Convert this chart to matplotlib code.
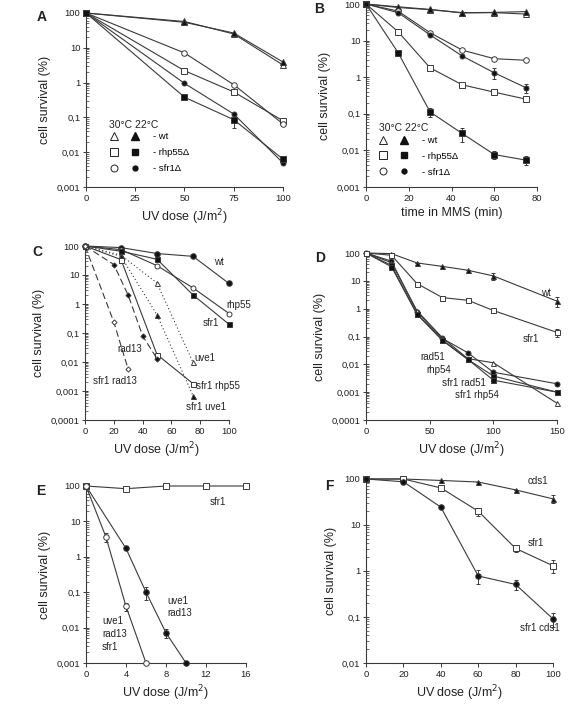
import matplotlib
matplotlib.use('Agg')
import matplotlib.pyplot as plt
from matplotlib.ticker import LogLocator, NullFormatter, FuncFormatter, FixedLocator
from matplotlib.lines import Line2D
import numpy as np

plt.rcParams['font.family'] = ['Liberation Sans', 'DejaVu Sans']

# ---------------- data ----------------
A_x = [0, 50, 75, 100]
A_wt30 = [100, 57, 25, 3.2]
A_wt22 = [100, 54, 26.6, 3.9]
A_rhp30 = [100, 2.2, 0.54, 0.08]
A_rhp22 = [100, 0.38, 0.086, 0.0063]
A_rhp22_err = [0, 0.02, 0.035, 0.0015]
A_sfr30 = [100, 7.1, 0.87, 0.065]
A_sfr22 = [100, 0.95, 0.125, 0.0049]

B_x = [0, 15, 30, 45, 60, 75]
B_wt30 = [100, 80, 70, 57, 58, 53]
B_wt22 = [100, 84, 71, 58, 59, 62]
B_rhp30 = [100, 17.5, 1.8, 0.62, 0.39, 0.25]
B_rhp22 = [100, 4.7, 0.112, 0.029, 0.0077, 0.0054]
B_rhp22_err = [0, 0, 0.03, 0.012, 0.002, 0.0015]
B_sfr30 = [100, 64, 16.4, 5.5, 3.2, 2.9]
B_sfr22 = [100, 58, 14.3, 3.8, 1.32, 0.51]
B_sfr22_err = [0, 0, 0, 0, 0.45, 0.15]

C_x5 = [0, 25, 50, 75, 100]
C_wt = [100, 88, 55, 44, 5.1]
C_rhp55 = [100, 75, 21, 3.6, 0.47]
C_sfr1 = [100, 66, 35, 2.06, 0.2]
C_x4 = [0, 25, 50, 75]
C_uve1 = [100, 48, 5.3, 0.0097]
C_sfr1uve1 = [100, 44, 0.42, 0.00069]
C_sfr1rhp55 = [100, 34, 0.018, 0.0018]
C_rad13_x = [0, 20, 30, 40, 50]
C_rad13 = [100, 23, 2.0, 0.08, 0.013]
C_sfr1rad13_x = [0, 20, 30]
C_sfr1rad13 = [100, 0.24, 0.0056]

D_x = [0, 20, 40, 60, 80, 100, 150]
D_wt = [100, 95, 44, 33, 24, 15, 1.86]
D_wt_err = [0, 0, 0, 0, 0, 4, 0.7]
D_sfr1 = [100, 83, 8, 2.5, 2.0, 0.86, 0.14]
D_sfr1_err = [0, 0, 0, 0, 0, 0, 0.04]
D_rad51 = [100, 51, 0.77, 0.085, 0.026, 0.0052, 0.002]
D_rhp54 = [100, 45, 0.85, 0.09, 0.016, 0.0114, 0.0004]
D_sfr1rad51 = [100, 36, 0.65, 0.075, 0.015, 0.0038, 0.001]
D_sfr1rhp54 = [100, 32, 0.63, 0.072, 0.015, 0.0027, 0.001]

E_x_sfr1 = [0, 4, 8, 12, 16]
E_sfr1 = [100, 84, 100, 100, 100]
E_x_ur = [0, 4, 6, 8, 10]
E_ur = [100, 1.72, 0.1, 0.0071, 0.001]
E_ur_err = [0, 0.2, 0.04, 0.002, 0]
E_x_urs = [0, 2, 4, 6]
E_urs = [100, 3.6, 0.04, 0.001]
E_urs_err = [0, 1.0, 0.01, 0]

F_x = [0, 20, 40, 60, 80, 100]
F_cds1 = [100, 100, 93, 86, 58, 37]
F_cds1_err = [0, 0, 0, 0, 0, 7]
F_sfr1 = [100, 100, 64, 20, 3.1, 1.3]
F_sfr1_err = [0, 0, 0, 4, 0.5, 0.4]
F_sc = [100, 87, 24.5, 0.78, 0.51, 0.091]
F_sc_err = [0, 0, 0, 0.25, 0.12, 0.03]

# ---------------- figure ----------------
W, H = 568, 720
fig = plt.figure(figsize=(W / 100, H / 100), dpi=100)
LC = '#3a3a3a'


def axes_px(l, r, t, b):
    return fig.add_axes([l / W, 1 - b / H, (r - l) / W, (b - t) / H])


def fmt(v, pos):
    if v >= 1:
        return f"{v:g}"
    d = int(round(-np.log10(v)))
    return f"{v:.{d}f}".replace('.', ',')


def style(ax, xlim, xticks, ylim, xlabel):
    ax.set_yscale('log')
    ax.set_xlim(*xlim)
    ax.set_ylim(*ylim)
    ax.xaxis.set_major_locator(FixedLocator(xticks))
    ax.yaxis.set_major_locator(LogLocator(base=10, numticks=12))
    ax.yaxis.set_minor_locator(LogLocator(base=10, subs=np.arange(2, 10), numticks=12))
    ax.yaxis.set_major_formatter(FuncFormatter(fmt))
    ax.yaxis.set_minor_formatter(NullFormatter())
    for s in ['top', 'right']:
        ax.spines[s].set_visible(False)
    for s in ['left', 'bottom']:
        ax.spines[s].set_color(LC)
        ax.spines[s].set_linewidth(0.8)
    ax.tick_params(axis='both', which='major', labelsize=6.8, length=3, width=0.7,
                   color=LC, labelcolor='#222222', pad=2)
    ax.tick_params(axis='y', which='major', direction='inout', length=4)
    ax.tick_params(axis='y', which='minor', direction='in', length=1.8, width=0.5, color=LC)
    ax.set_xlabel(xlabel, fontsize=9, color='#222222', labelpad=3)
    ax.set_ylabel('cell survival (%)', fontsize=9, color='#222222', labelpad=4)


def line(ax, x, y, marker, filled, ms=4, ls='-', err=None, dashes=None):
    kw = dict(color=LC, lw=0.8, marker=marker, ms=ms, mec=LC, mew=0.7,
              mfc=('#111111' if filled else 'white'), clip_on=False, zorder=3)
    if err is not None:
        ax.errorbar(x, y, yerr=err, ls=ls, elinewidth=0.7, capsize=1.2, ecolor=LC, **kw)
    else:
        l, = ax.plot(x, y, ls=ls, **kw)
        if dashes is not None:
            l.set_dashes(dashes)


def ftext(x, y, s, size=7, ha='left', va='center', **kw):
    fig.text(x / W, 1 - y / H, s, fontsize=size, ha=ha, va=va, color='#222222', **kw)


def letter(x, y, s):
    ftext(x, y, s, size=10, ha='center', fontweight='bold')


# ---------- A ----------
axA = axes_px(86, 283, 13, 187)
style(axA, (0, 100), [0, 25, 50, 75, 100], (0.001, 100), 'UV dose (J/m$^2$)')
line(axA, A_x, A_wt30, '^', False)
line(axA, A_x, A_wt22, '^', True)
line(axA, A_x, A_rhp30, 's', False)
line(axA, A_x, A_rhp22, 's', True, err=A_rhp22_err)
line(axA, A_x, A_sfr30, 'o', False)
line(axA, A_x, A_sfr22, 'o', True, ms=3.6)

# legends for A and B
def temp_legend(ax, anchor):
    h = [Line2D([], [], ls='', marker='^', ms=5.5, mfc='white', mec='#222222', mew=0.7),
         Line2D([], [], ls='', marker='s', ms=5.5, mfc='white', mec='#222222', mew=0.7),
         Line2D([], [], ls='', marker='o', ms=5, mfc='white', mec='#222222', mew=0.7),
         Line2D([], [], ls='', marker='^', ms=5.5, mfc='#111111', mec='#111111'),
         Line2D([], [], ls='', marker='s', ms=5, mfc='#111111', mec='#111111'),
         Line2D([], [], ls='', marker='o', ms=3.5, mfc='#111111', mec='#111111')]
    labels = ['', '', '', '- wt', '- rhp55\u0394', '- sfr1\u0394']
    lg = ax.legend(h, labels, ncol=2, loc='upper left', bbox_to_anchor=anchor,
                   frameon=False, fontsize=6.8, title='30\u00b0C 22\u00b0C',
                   title_fontsize=7.5, handlelength=1.0, handletextpad=1.4,
                   columnspacing=-0.2, labelspacing=0.72, borderpad=0.1)
    lg.get_title().set_fontweight('normal')
    lg.get_title().set_color('#222222')
    lg._legend_box.align = 'left'
    lg._legend_box.sep = 2

temp_legend(axA, (0.09, 0.42))

# ---------- B ----------
axB = axes_px(366, 537, 4, 187)
style(axB, (0, 80), [0, 20, 40, 60, 80], (0.001, 100), 'time in MMS (min)')
line(axB, B_x, B_wt30, '^', False)
line(axB, B_x, B_wt22, '^', True)
line(axB, B_x, B_rhp30, 's', False)
line(axB, B_x, B_rhp22, 's', True, err=B_rhp22_err)
line(axB, B_x, B_sfr30, 'o', False)
line(axB, B_x, B_sfr22, 'o', True, ms=3.6, err=B_sfr22_err)
temp_legend(axB, (0.04, 0.38))

# ---------- C ----------
axC = axes_px(85, 229, 246, 420)
style(axC, (0, 100), [0, 20, 40, 60, 80, 100], (0.0001, 100), 'UV dose (J/m$^2$)')
line(axC, C_x5, C_wt, 'o', True)
line(axC, C_x5, C_rhp55, 'o', False, ms=3.6)
line(axC, C_x5, C_sfr1, 's', True, ms=3.6)
line(axC, C_x4, C_uve1, '^', False, ms=3.6, dashes=(1, 2.2))
line(axC, C_x4, C_sfr1uve1, '^', True, ms=3.6, dashes=(1, 2.2))
line(axC, C_x4, C_sfr1rhp55, 's', False, ms=3.6)
line(axC, C_rad13_x, C_rad13, 'D', True, ms=2.6, dashes=(6, 3))
line(axC, C_sfr1rad13_x, C_sfr1rad13, 'D', False, ms=2.6, dashes=(6, 3))

ftext(214, 262, 'wt')
ftext(226, 305, 'rhp55')
ftext(203, 323, 'sfr1')
ftext(117, 349, 'rad13')
ftext(194, 358, 'uve1')
ftext(196, 386, 'sfr1 rhp55')
ftext(186, 407, 'sfr1 uve1')
ftext(93, 381, 'sfr1 rad13')

# ---------- D ----------
axD = axes_px(366, 557, 253, 420)
style(axD, (0, 150), [0, 50, 100, 150], (0.0001, 100), 'UV dose (J/m$^2$)')
line(axD, D_x, D_wt, '^', True, ms=3.6, err=D_wt_err)
line(axD, D_x, D_sfr1, 's', False, ms=3.6, err=D_sfr1_err)
line(axD, D_x, D_rad51, 'o', True, ms=3.6)
line(axD, D_x, D_rhp54, '^', False, ms=3.6)
line(axD, D_x, D_sfr1rad51, 's', True, ms=3.6)
line(axD, D_x, D_sfr1rhp54, 's', True, ms=3.6)

ftext(541, 293, 'wt')
ftext(523, 339, 'sfr1')
ftext(420, 357, 'rad51')
ftext(426, 370, 'rhp54')
ftext(442, 383, 'sfr1 rad51')
ftext(455, 395, 'sfr1 rhp54')

# ---------- E ----------
axE = axes_px(86, 246, 486, 663)
style(axE, (0, 16), [0, 4, 8, 12, 16], (0.001, 100), 'UV dose (J/m$^2$)')
line(axE, E_x_sfr1, E_sfr1, 's', False)
line(axE, E_x_ur, E_ur, 'o', True, err=E_ur_err)
line(axE, E_x_urs, E_urs, 'o', False, err=E_urs_err)

ftext(210, 502, 'sfr1')
ftext(167, 607, 'uve1\nrad13', va='center', linespacing=1.35)
ftext(102, 634, 'uve1\nrad13\nsfr1', va='center', linespacing=1.35)

# ---------- F ----------
axF = axes_px(366, 553, 479, 663)
style(axF, (0, 100), [0, 20, 40, 60, 80, 100], (0.01, 100), 'UV dose (J/m$^2$)')
line(axF, F_x, F_cds1, '^', True, ms=3.6, err=F_cds1_err)
line(axF, F_x, F_sfr1, 's', False, err=F_sfr1_err)
line(axF, F_x, F_sc, 'o', True, err=F_sc_err)

ftext(528, 481, 'cds1')
ftext(528, 543, 'sfr1')
ftext(520, 628, 'sfr1 cds1')

letter(42, 17, 'A')
letter(319, 9, 'B')
letter(37, 252, 'C')
letter(320, 258, 'D')
letter(41, 491, 'E')
letter(329, 486, 'F')

fig.savefig('out.png', dpi=100)
